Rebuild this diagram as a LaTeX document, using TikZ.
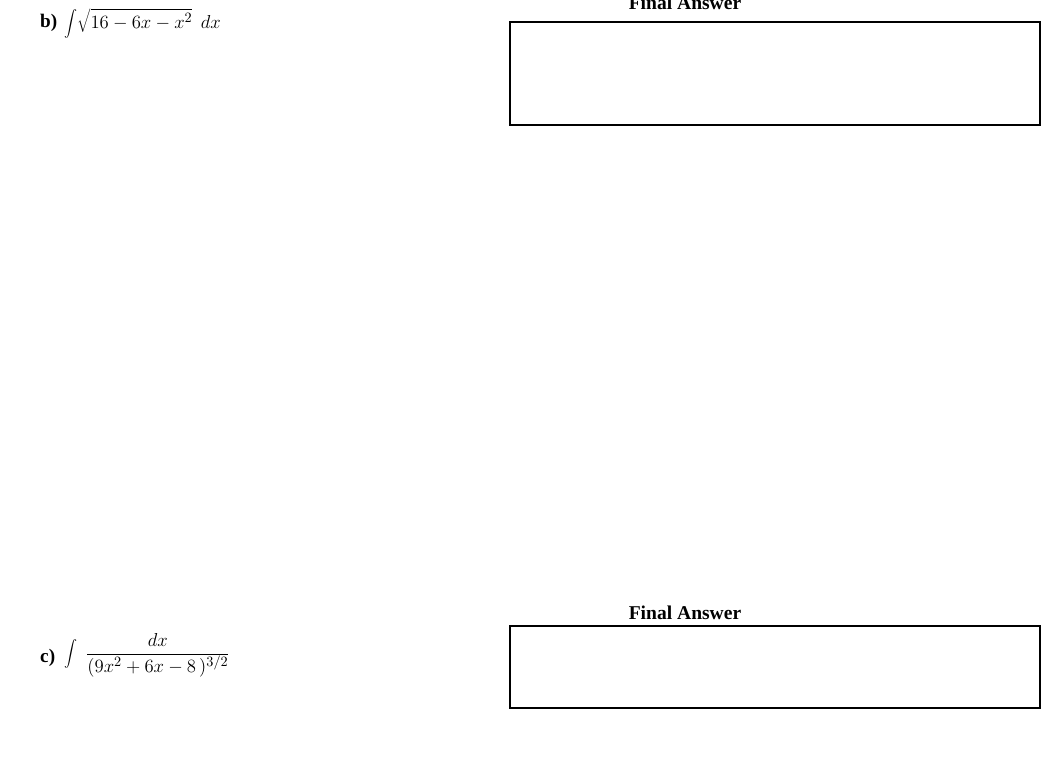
\documentclass[tikz,border=0pt]{standalone}
\usepackage{fontspec}
\setmainfont{Liberation Serif}
\begin{document}
\begin{tikzpicture}[x=1pt,y=-1pt,
  ansbox/.style={draw,line width=2pt},
  lbl/.style={font=\fontsize{16}{19}\selectfont\bfseries,anchor=base west,scale=1.2},
  ttl/.style={font=\fontsize{17}{20}\selectfont\bfseries,anchor=base,scale=1.15},
  eq/.style={font=\fontsize{15}{18}\selectfont,anchor=west,scale=1.3}]
\useasboundingbox (0,0) rectangle (1052,775);
\node[lbl] (lb) at (36,28) {b)};
\node[eq] (qb) at (60,23) {$\displaystyle\int\!\sqrt{16-6x-x^2}\;\,dx$};
\node[ttl] (tb) at (685,10) {Final Answer};
\draw[ansbox] (510,22) rectangle (1040,125);
\node[lbl] (lc) at (36,662) {c)};
\node[eq] (qc) at (60,655) {$\displaystyle\int\;\frac{dx}{(9x^2+6x-8\,)^{3/2}}$};
\node[ttl] (tc) at (685,619) {Final Answer};
\draw[ansbox] (510,626) rectangle (1040,708);
\end{tikzpicture}
\end{document}
